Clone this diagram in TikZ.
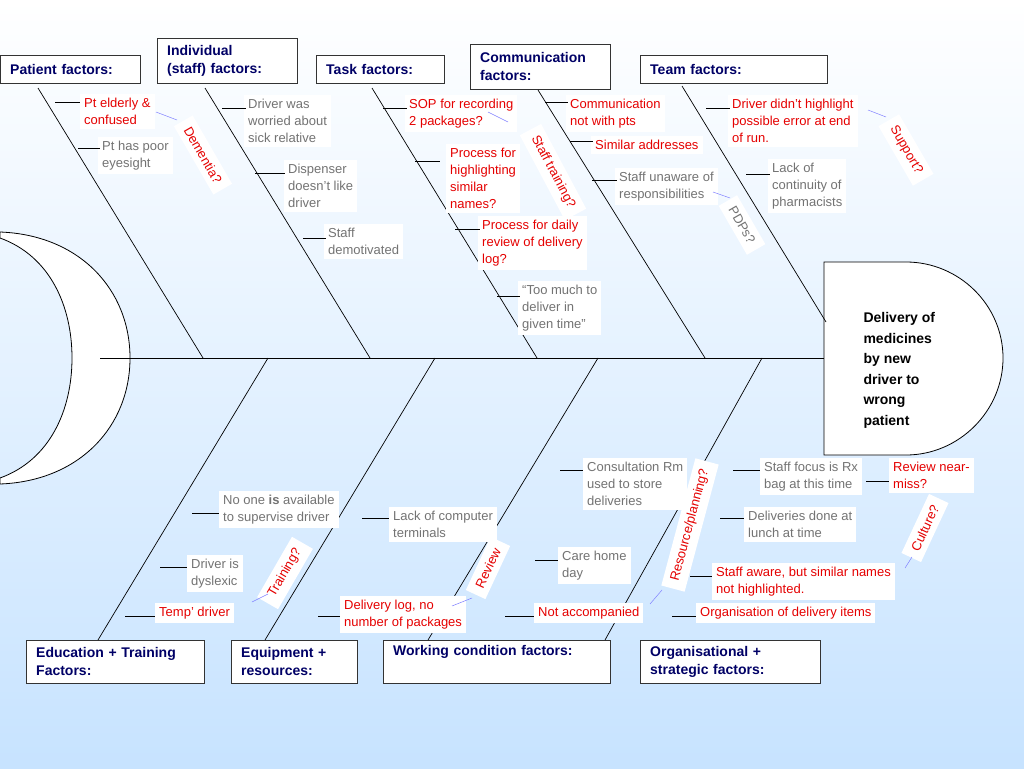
\documentclass[tikz,border=0pt]{standalone}
\usepackage{fontspec}
\setmainfont{Liberation Sans}
\begin{document}
\begin{tikzpicture}[x=1pt,y=-1pt,
 lbl/.style={fill=white,anchor=north west,align=left,inner sep=4pt,font=\fontsize{13}{17}\selectfont},
 gr/.style={lbl,text=black!55},
 rd/.style={lbl,text=red!90!black},
 rot/.style={fill=white,inner xsep=8pt,inner ysep=6pt,text=red!90!black,font=\fontsize{13}{15}\selectfont},
 hdr/.style={draw=black!80,fill=white,anchor=north west,align=left,inner xsep=10pt,inner ysep=4pt,text=blue!40!black,font=\bfseries\fontsize{14}{18}\selectfont},
 bone/.style={black,line width=0.7pt},
 tick/.style={black,line width=0.7pt},
 con/.style={blue!50!white,line width=0.5pt}]
\shade[top color=white,bottom color=blue!50!cyan!22] (0,0) rectangle (1024,768);
\useasboundingbox (0,0) rectangle (1024,768);
% crescent
\filldraw[fill=white,draw=black,line width=0.8pt] (0,232) .. controls (80,235) and (130,290) .. (130,358) .. controls (130,426) and (80,481) .. (0,484)
 -- (0,478) .. controls (50,460) and (72,410) .. (72,358) .. controls (72,306) and (50,256) .. (0,238) -- cycle;
% spine and head
\draw[bone] (100,358) -- (824,358);
\filldraw[fill=white,draw=black,line width=0.8pt] (824,262) -- (906,262) .. controls (959,262) and (1003,305) .. (1003,358) .. controls (1003,411) and (959,455) .. (906,455) -- (824,455) -- cycle;
\node[anchor=north west,align=left,font=\bfseries\fontsize{14}{20.5}\selectfont] (head) at (860,309) {Delivery of\\medicines\\by new\\driver to\\wrong\\patient};
% headers
\node[hdr,text width=120,minimum height=28] (h1) at (0,55) {Patient factors:};
\node[hdr,text width=120,minimum height=45] (h2) at (157,38) {Individual\\(staff) factors:};
\node[hdr,text width=108,minimum height=28] (h3) at (316,55) {Task factors:};
\node[hdr,text width=120,minimum height=45] (h4) at (470,44) {Communication\\factors:};
\node[hdr,text width=167,minimum height=28] (h5) at (640,55) {Team factors:};
\node[hdr,text width=158,minimum height=43] (b1) at (26,640) {Education + Training\\Factors:};
\node[hdr,text width=106,minimum height=43] (b2) at (231,640) {Equipment +\\resources:};
\node[hdr,text width=207,minimum height=43] (b3) at (383,640) {Working condition factors:\\\strut};
\node[hdr,text width=160,minimum height=43] (b4) at (640,640) {Organisational +\\strategic factors:};
% bones
\draw[bone] (38,88) -- (203,358);
\draw[bone] (205,88) -- (370,358);
\draw[bone] (372,88) -- (537,358);
\draw[bone] (538,90) -- (705,358);
\draw[bone] (682,86) -- (826,322);
\draw[bone] (268,358) -- (98,640);
\draw[bone] (435,358) -- (265,640);
\draw[bone] (598,358) -- (428,640);
\draw[bone] (762,358) -- (605,640);
% rotated labels (behind)
\node[rot,rotate=-60] (r1) at (203,155) {Dementia?};
\node[rot,rotate=-62] (r2) at (553,172) {Staff training?};
\node[rot,rotate=-60,text=black!55] (r3) at (742,225) {PDPs?};
\node[rot,rotate=-60] (r4) at (906,150) {Support?};
% top labels
\node[rd] (t1) at (80,94) {Pt elderly \&\\confused};
\node[gr] (t2) at (98,137) {Pt has poor\\eyesight};
\node[gr] (t3) at (244,95) {Driver was\\worried about\\sick relative};
\node[gr] (t4) at (284,160) {Dispenser\\doesn’t like\\driver};
\node[gr] (t5) at (324,224) {Staff\\demotivated\hspace{28pt}};
\node[rd] (t6) at (405,95) {SOP for recording\\2 packages?};
\node[rd] (t7) at (446,144) {Process for\\highlighting\\similar\\names?};
\node[rd] (t8) at (478,216) {Process for daily\\review of delivery\\log?\hspace{100pt}};
\node[gr] (t9) at (518,281) {“Too much to\\deliver in\\given time”};
\node[rd] (t10) at (566,95) {Communication\\not with pts};
\node[rd] (t11) at (591,136) {Similar addresses};
\node[gr] (t12) at (615,168) {Staff unaware of\\responsibilities};
\node[rd] (t13) at (728,95) {Driver didn’t highlight\\possible error at end\\of run.};
\node[gr] (t14) at (768,159) {Lack of\\continuity of\\pharmacists};
\draw[tick] (55,102) -- (80,102);
\draw[tick] (78,148) -- (100,148);
\draw[tick] (222,108) -- (246,108);
\draw[tick] (255,173) -- (285,173);
\draw[tick] (303,238) -- (326,238);
\draw[tick] (383,108) -- (407,108);
\draw[tick] (415,161) -- (440,161);
\draw[tick] (455,229) -- (480,229);
\draw[tick] (497,296) -- (520,296);
\draw[tick] (545,102) -- (568,102);
\draw[tick] (570,141) -- (593,141);
\draw[tick] (592,180) -- (617,180);
\draw[tick] (706,108) -- (730,108);
\draw[tick] (746,174) -- (770,174);
\draw[con] (156,112) -- (177,120);
\draw[con] (488,112) -- (508,122);
\draw[con] (713,192) -- (730,198);
\draw[con] (868,110) -- (886,117);
% bottom rotated
\node[rot,rotate=60] (r5) at (285,573) {Training?};
\node[rot,rotate=65] (r6) at (488,568) {Review};
\node[rot,rotate=75] (r7) at (690,525) {Resource/planning?};
\node[rot,rotate=65] (r8) at (925,528) {Culture?};
% bottom labels
\node[gr] (u1) at (219,491) {No one \textbf{is} available\\to supervise driver};
\node[gr] (u2) at (187,555) {Driver is\\dyslexic\hspace{18pt}};
\node[rd] (u3) at (155,603) {Temp’ driver};
\node[gr] (u4) at (389,507) {Lack of computer\\terminals\hspace{40pt}};
\node[rd] (u5) at (340,596) {Delivery log, no\\number of packages};
\node[gr] (u6) at (583,458) {Consultation Rm\\used to store\\deliveries};
\node[gr] (u7) at (558,547) {Care home\\day\hspace{50pt}};
\node[rd] (u8) at (534,603) {Not accompanied};
\node[gr] (u9) at (760,458) {Staff focus is Rx\\bag at this time};
\node[rd] (u10) at (889,458) {Review near-\\miss?\hspace{30pt}};
\node[gr] (u11) at (744,507) {Deliveries done at\\lunch at time\hspace{20pt}};
\node[rd] (u12) at (712,563) {Staff aware, but similar names\\not highlighted.};
\node[rd] (u13) at (696,603) {Organisation of delivery items};
\draw[tick] (192,513) -- (219,513);
\draw[tick] (160,567) -- (187,567);
\draw[tick] (125,616) -- (155,616);
\draw[tick] (362,518) -- (389,518);
\draw[tick] (318,616) -- (340,616);
\draw[tick] (560,470) -- (583,470);
\draw[tick] (535,560) -- (558,560);
\draw[tick] (505,616) -- (534,616);
\draw[tick] (733,470) -- (760,470);
\draw[tick] (866,481) -- (889,481);
\draw[tick] (720,518) -- (744,518);
\draw[tick] (690,576) -- (712,576);
\draw[tick] (672,616) -- (696,616);
\draw[con] (252,602) -- (268,594);
\draw[con] (452,606) -- (472,598);
\draw[con] (650,604) -- (662,590);
\draw[con] (905,568) -- (912,557);
\end{tikzpicture}
\end{document}
